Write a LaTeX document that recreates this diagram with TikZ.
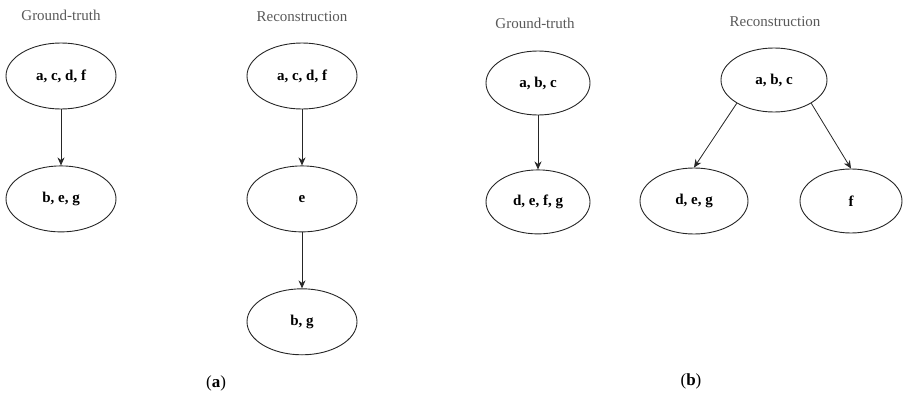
\documentclass[tikz,border=0pt]{standalone}
\usepackage{fontspec}
\setmainfont{Liberation Serif}
\usetikzlibrary{shapes.geometric, arrows.meta, positioning}

\begin{document}
\begin{tikzpicture}[
    x=1pt, y=-1pt,
    setnode/.style={ellipse, draw=black!85, line width=0.9pt, minimum width=110pt, minimum height=66pt, inner sep=0pt, font=\fontsize{15}{18}\selectfont\bfseries},
    title/.style={text=black!65, font=\fontsize{15}{18}\selectfont},
    caption/.style={font=\fontsize{17}{20}\selectfont},
    arrow/.style={draw=black!85, line width=0.8pt, -{Stealth[length=8pt, width=7pt]}},
    node distance=56pt
]
\useasboundingbox (0,0) rectangle (903,396);

% (a) Ground-truth
\node[title] (gtA) at (61,15) {Ground-truth};
\node[setnode] (gtA1) at (61,76) {a, c, d, f};
\node[setnode, below=of gtA1] (gtA2) {b, e, g};

% (a) Reconstruction
\node[title] (recA) at (302,17) {Reconstruction};
\node[setnode] (recA1) at (302,76) {a, c, d, f};
\node[setnode, below=of recA1] (recA2) {e};
\node[setnode, below=of recA2] (recA3) {b, g};

% (b) Ground-truth
\node[title] (gtB) at (535,23) {Ground-truth};
\node[setnode, minimum width=104pt, minimum height=64pt] (gtB1) at (538,83) {a, b, c};
\node[setnode, minimum width=104pt, minimum height=64pt, below=54pt of gtB1] (gtB2) {d, e, f, g};

% (b) Reconstruction
\node[title] (recB) at (775,22) {Reconstruction};
\node[setnode, minimum width=106pt, minimum height=64pt] (recB1) at (774,80) {a, b, c};
\node[setnode, minimum width=108pt, minimum height=66pt] (recB2) at (694,201) {d, e, g};
\node[setnode, minimum width=102pt, minimum height=64pt] (recB3) at (851,201) {f};

% Captions
\node[caption] (capA) at (216,383) {(\textbf{a})};
\node[caption] (capB) at (691,381) {(\textbf{b})};

% Connections
\draw[arrow] (gtA1) -- (gtA2);
\draw[arrow] (recA1) -- (recA2);
\draw[arrow] (recA2) -- (recA3);
\draw[arrow] (gtB1) -- (gtB2);
\draw[arrow] (recB1.212) -- (recB2.north);
\draw[arrow] (recB1.328) -- (recB3.north);

\end{tikzpicture}
\end{document}
